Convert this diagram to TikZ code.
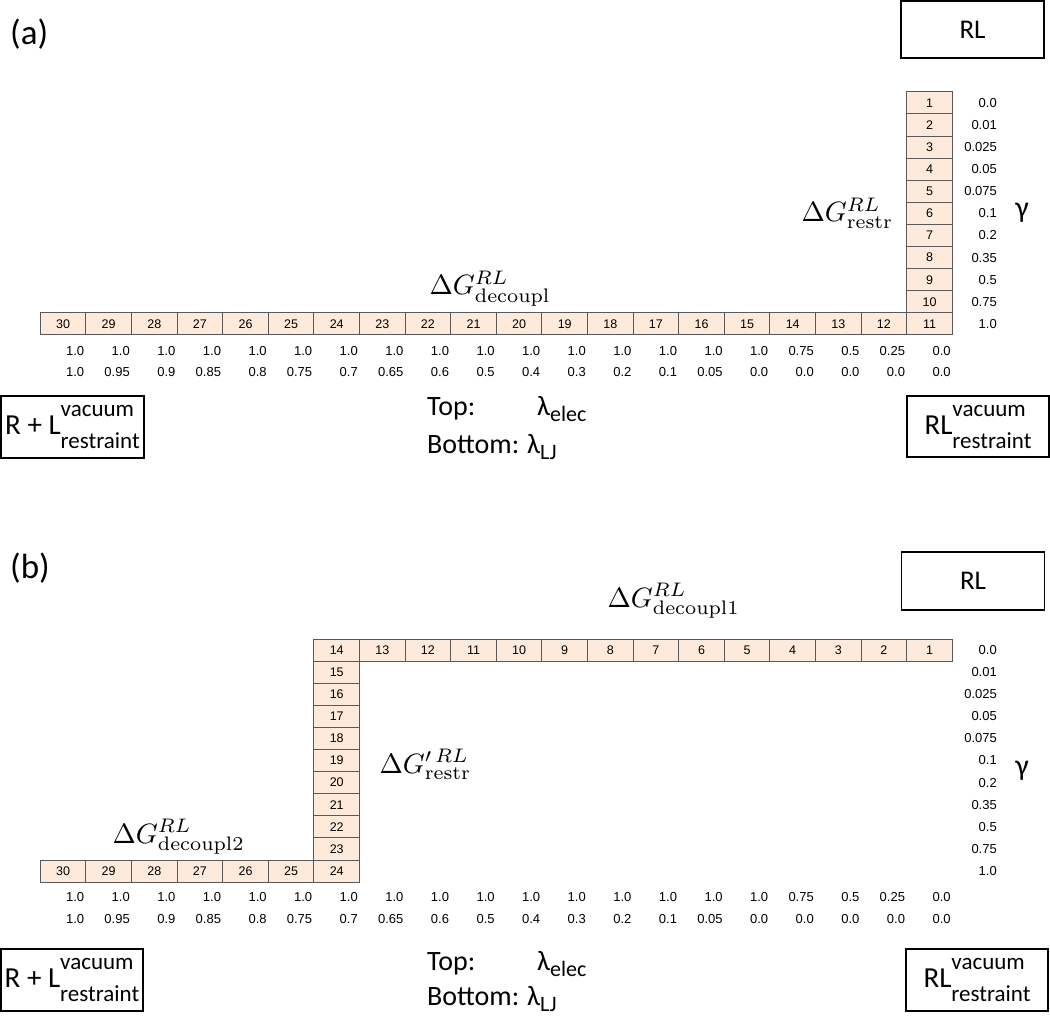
\documentclass[tikz,border=0pt]{standalone}
\usepackage{amsmath}
\usepackage[no-math]{fontspec}
\setmainfont{Carlito}
\newfontfamily\numfont{Liberation Sans}
\definecolor{cellfill}{HTML}{FDEADA}
\definecolor{celldraw}{HTML}{595959}
\newcommand{\statelab}[3]{#1\rlap{\fontsize{23}{23}\selectfont\raisebox{18pt}{#2}}{\fontsize{23}{23}\selectfont\raisebox{-14pt}{#3}}}
\newcommand{\lamsub}[1]{λ{\fontsize{22}{22}\selectfont\raisebox{-6pt}{#1}}}
\begin{document}
\begin{tikzpicture}[x=1pt,y=-1pt,
  cellbox/.style={draw=celldraw,fill=cellfill,line width=0.9pt,minimum width=45.6pt,minimum height=22.1pt,inner sep=0pt,font=\numfont\fontsize{12.5}{12.5}\selectfont},
  valnum/.style={anchor=east,inner sep=0pt,font=\numfont\fontsize{13}{13}\selectfont},
  statebox/.style={draw=black,line width=1.1pt,inner sep=2pt,font=\fontsize{29}{30}\selectfont},
  rlbox/.style={draw=black,line width=1.1pt,minimum width=143pt,minimum height=57pt,font=\fontsize{27}{28}\selectfont},
  biglab/.style={anchor=base west,inner sep=0pt,font=\fontsize{35}{36}\selectfont},
  dglab/.style={anchor=base west,inner sep=0pt,font=\fontsize{10}{12}\selectfont,scale=2.8,transform shape},
  toplab/.style={anchor=base west,inner sep=0pt,font=\fontsize{28}{29}\selectfont},
  gamlab/.style={inner sep=0pt,font=\fontsize{30}{30}\selectfont}]
\useasboundingbox (0,0) rectangle (1050,1016);

% ---------------- panel (a) ----------------
\node[biglab] (alab) at (10,45) {(a)};
\node[rlbox] (aRL) at (972.5,29.5) {RL};
\node[statebox,minimum width=143pt,minimum height=62pt] (aRplusL) at (72.5,427) {\statelab{R + L}{vacuum}{restraint}};
\node[statebox,minimum width=142pt,minimum height=61pt] (aRLvac) at (978,426.5) {\statelab{RL}{vacuum}{restraint}};

\foreach \k in {30,...,12}{
  \pgfmathsetmacro\xc{63.1+(30-\k)*45.6}
  \node[cellbox] (a\k) at (\xc,323.9) {\k};
}
\foreach \k in {1,...,11}{
  \pgfmathsetmacro\yc{102.9+(\k-1)*22.1}
  \node[cellbox] (a\k) at (929.5,\yc) {\k};
}
\foreach \g [count=\j from 0] in {0.0,0.01,0.025,0.05,0.075,0.1,0.2,0.35,0.5,0.75,1.0}{
  \pgfmathsetmacro\yc{102.9+\j*22.1}
  \node[valnum] (ag\j) at (997,\yc) {\g};
}
\foreach \t/\b [count=\i from 0] in {1.0/1.0,1.0/0.95,1.0/0.9,1.0/0.85,1.0/0.8,1.0/0.75,1.0/0.7,1.0/0.65,1.0/0.6,1.0/0.5,1.0/0.4,1.0/0.3,1.0/0.2,1.0/0.1,1.0/0.05,1.0/0.0,0.75/0.0,0.5/0.0,0.25/0.0,0.0/0.0}{
  \pgfmathsetmacro\xr{40.3+(\i+1)*45.6-1.5}
  \node[valnum] (ate\i) at (\xr,351) {\t};
  \node[valnum] (abe\i) at (\xr,372.5) {\b};
}
\node[gamlab] (agam) at (1022,213) {γ};
\node[dglab] (adgdec) at (429,295) {$\Delta G^{RL}_{\mathrm{decoupl}}$};
\node[dglab] (adgres) at (801,222) {$\Delta G^{RL}_{\mathrm{restr}}$};
\node[toplab] (atop) at (427,415) {Top:};
\node[toplab] (atopl) at (537,415) {\lamsub{elec}};
\node[toplab] (abot) at (427,453) {Bottom:};
\node[toplab] (abotl) at (527,453) {\lamsub{LJ}};

% ---------------- panel (b) ----------------
\node[biglab] (blab) at (10,578) {(b)};
\node[rlbox,minimum height=58pt] (bRL) at (973,581) {RL};
\node[statebox,minimum width=142pt,minimum height=62pt] (bRplusL) at (72,980) {\statelab{R + L}{vacuum}{restraint}};
\node[statebox,minimum width=142pt,minimum height=62pt] (bRLvac) at (977,980) {\statelab{RL}{vacuum}{restraint}};

\foreach \k in {1,...,14}{
  \pgfmathsetmacro\xc{63.1+(20-\k)*45.6}
  \node[cellbox] (b\k) at (\xc,650) {\k};
}
\foreach \k in {15,...,24}{
  \pgfmathsetmacro\yc{650+(\k-14)*22.1}
  \node[cellbox] (b\k) at (336.7,\yc) {\k};
}
\foreach \k in {30,...,25}{
  \pgfmathsetmacro\xc{63.1+(30-\k)*45.6}
  \node[cellbox] (b\k) at (\xc,871) {\k};
}
\foreach \g [count=\j from 0] in {0.0,0.01,0.025,0.05,0.075,0.1,0.2,0.35,0.5,0.75,1.0}{
  \pgfmathsetmacro\yc{650+\j*22.1}
  \node[valnum] (bg\j) at (997,\yc) {\g};
}
\foreach \t/\b [count=\i from 0] in {1.0/1.0,1.0/0.95,1.0/0.9,1.0/0.85,1.0/0.8,1.0/0.75,1.0/0.7,1.0/0.65,1.0/0.6,1.0/0.5,1.0/0.4,1.0/0.3,1.0/0.2,1.0/0.1,1.0/0.05,1.0/0.0,0.75/0.0,0.5/0.0,0.25/0.0,0.0/0.0}{
  \pgfmathsetmacro\xr{40.3+(\i+1)*45.6-1.5}
  \node[valnum] (bte\i) at (\xr,897) {\t};
  \node[valnum] (bbe\i) at (\xr,919) {\b};
}
\node[gamlab] (bgam) at (1022,771) {γ};
\node[dglab] (bdgdec1) at (607,607) {$\Delta G^{RL}_{\mathrm{decoupl1}}$};
\node[dglab] (bdgres) at (379,773) {$\Delta G^{\prime\,RL}_{\mathrm{restr}}$};
\node[dglab] (bdgdec2) at (112,843) {$\Delta G^{RL}_{\mathrm{decoupl2}}$};
\node[toplab] (btop) at (427,970) {Top:};
\node[toplab] (btopl) at (537,970) {\lamsub{elec}};
\node[toplab] (bbot) at (427,1005) {Bottom:};
\node[toplab] (bbotl) at (527,1005) {\lamsub{LJ}};
\end{tikzpicture}
\end{document}
